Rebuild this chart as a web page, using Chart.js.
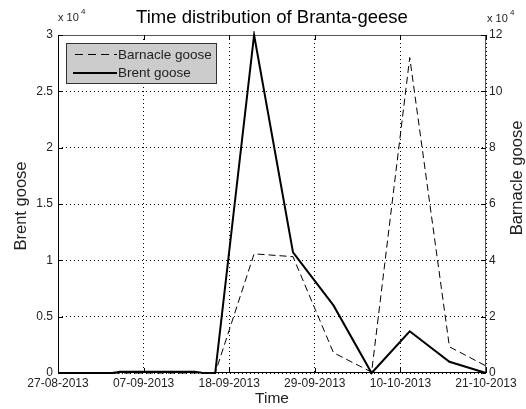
<!DOCTYPE html>
<html><head><meta charset="utf-8">
<script src="https://cdn.jsdelivr.net/npm/chart.js@4.4.0/dist/chart.umd.min.js"></script>
<style>html,body{margin:0;padding:0;background:#fff;}#wrap{width:526px;height:409px;position:relative;}</style>
</head><body><div id="wrap"><canvas id="c" width="526" height="409"></canvas></div>
<script>
// Days since 27-08-2013
const dayOffsets = [0, 7, 8, 17.5, 18.5, 20.2, 25.2, 30.2, 35.4, 40.3, 45.2, 50.3, 55];
const brentGoose = [0, 0, 120, 120, 30, 0, 30000, 10700, 6000, 0, 3700, 1000, 0];
const barnacleGoose = [0, 0, 0, 0, 0, 0, 42300, 41300, 7200, 300, 112000, 9300, 2500];

const xTickDays = [0, 11, 22, 33, 44, 55];
const xTickLabels = ['27-08-2013', '07-09-2013', '18-09-2013', '29-09-2013', '10-10-2013', '21-10-2013'];
const leftTickValues = [0, 5000, 10000, 15000, 20000, 25000, 30000];
const leftTickLabels = ['0', '0.5', '1', '1.5', '2', '2.5', '3'];
const rightTickValues = [0, 20000, 40000, 60000, 80000, 100000, 120000];
const rightTickLabels = ['0', '2', '4', '6', '8', '10', '12'];

const FONT = 'Liberation Sans, Arial, Helvetica, sans-serif';
const TXT = '#222';

function pts(vals) { return dayOffsets.map((d, i) => ({ x: d, y: vals[i] })); }

const overlay = {
  id: 'overlay',
  beforeDatasetsDraw(chart) {
    const { ctx, chartArea: a } = chart;
    ctx.save();
    ctx.lineWidth = 1;
    ctx.strokeStyle = '#555';
    ctx.beginPath();
    ctx.moveTo(a.left, a.top + 0.5); ctx.lineTo(a.right, a.top + 0.5);
    ctx.moveTo(a.right - 0.5, a.top); ctx.lineTo(a.right - 0.5, a.bottom);
    ctx.stroke();
    ctx.strokeStyle = '#000';
    ctx.beginPath();
    ctx.moveTo(a.left + 0.5, a.top); ctx.lineTo(a.left + 0.5, a.bottom);
    ctx.moveTo(a.left, a.bottom - 0.5); ctx.lineTo(a.right, a.bottom - 0.5);
    ctx.stroke();
    const xs = chart.scales.x, yl = chart.scales.y, yr = chart.scales.y1;
    ctx.strokeStyle = '#000';
    ctx.beginPath();
    xTickDays.forEach(d => {
      const px = Math.round(xs.getPixelForValue(d)) + 0.5;
      ctx.moveTo(px, a.bottom); ctx.lineTo(px, a.bottom - 5);
      ctx.moveTo(px, a.top); ctx.lineTo(px, a.top + 5);
    });
    leftTickValues.forEach(v => {
      const py = Math.round(yl.getPixelForValue(v)) + 0.5;
      ctx.moveTo(a.left, py); ctx.lineTo(a.left + 5, py);
    });
    rightTickValues.forEach(v => {
      const py = Math.round(yr.getPixelForValue(v)) + 0.5;
      ctx.moveTo(a.right, py); ctx.lineTo(a.right - 5, py);
    });
    ctx.stroke();
    ctx.restore();
  },
  afterDraw(chart) {
    const { ctx, chartArea: a } = chart;
    ctx.save();
    ctx.fillStyle = '#000';
    ctx.textAlign = 'center';
    ctx.textBaseline = 'middle';
    ctx.font = '18.5px ' + FONT;
    ctx.fillText('Time distribution of Branta-geese', (a.left + a.right) / 2, 18);
    ctx.fillStyle = TXT;
    ctx.font = '15.5px ' + FONT;
    ctx.fillText('Time', (a.left + a.right) / 2, 399);
    ctx.font = '16.5px ' + FONT;
    ctx.save();
    ctx.translate(21, 206); ctx.rotate(-Math.PI / 2);
    ctx.fillText('Brent goose', 0, 0);
    ctx.restore();
    ctx.save();
    ctx.translate(517, 178); ctx.rotate(-Math.PI / 2);
    ctx.fillText('Barnacle goose', 0, 0);
    ctx.restore();
    ctx.textAlign = 'left';
    ctx.textBaseline = 'alphabetic';
    ctx.font = '11px ' + FONT;
    ctx.fillText('x 10', 58, 21);
    ctx.font = '8px ' + FONT;
    ctx.fillText('4', 81, 14);
    ctx.font = '11px ' + FONT;
    ctx.fillText('x 10', 487, 22);
    ctx.font = '8px ' + FONT;
    ctx.fillText('4', 510, 15);
    const lx = 66.5, ly = 43.5, lw = 150, lh = 40;
    ctx.fillStyle = '#cccccc';
    ctx.fillRect(lx, ly, lw, lh);
    ctx.strokeStyle = '#333';
    ctx.lineWidth = 1;
    ctx.strokeRect(lx, ly, lw, lh);
    ctx.strokeStyle = '#000';
    ctx.setLineDash([8, 5]);
    ctx.beginPath(); ctx.moveTo(75, 54.5); ctx.lineTo(117, 54.5); ctx.stroke();
    ctx.setLineDash([]);
    ctx.lineWidth = 2;
    ctx.beginPath(); ctx.moveTo(73, 73); ctx.lineTo(117, 73); ctx.stroke();
    ctx.fillStyle = TXT;
    ctx.font = '13.5px ' + FONT;
    ctx.textBaseline = 'middle';
    ctx.fillText('Barnacle goose', 118, 55);
    ctx.fillText('Brent goose', 118, 73);
    ctx.restore();
  }
};

new Chart(document.getElementById('c'), {
  type: 'line',
  data: {
    datasets: [
      { label: 'Barnacle goose', data: pts(barnacleGoose), yAxisID: 'y1', borderColor: '#000', borderWidth: 1,
        borderDash: [7, 4], pointRadius: 0, tension: 0, fill: false, clip: 4 },
      { label: 'Brent goose', data: pts(brentGoose), yAxisID: 'y', borderColor: '#000', borderWidth: 2,
        pointRadius: 0, tension: 0, fill: false, clip: 4 }
    ]
  },
  options: {
    responsive: false, animation: false, devicePixelRatio: 1,
    layout: { padding: { top: 35, left: 0, right: 0, bottom: 0 } },
    plugins: { legend: { display: false }, title: { display: false }, tooltip: { enabled: false } },
    scales: {
      x: {
        type: 'linear', min: 0, max: 55,
        afterBuildTicks: s => { s.ticks = xTickDays.map(v => ({ value: v })); },
        afterFit: s => { s.height = 36; },
        ticks: { autoSkip: false, maxRotation: 0, padding: 3, color: TXT, font: { family: FONT, size: 12 },
          callback: (v) => xTickLabels[xTickDays.indexOf(v)] },
        grid: { color: '#000', lineWidth: 1, drawTicks: false },
        border: { display: false, dash: [1, 3] }
      },
      y: {
        position: 'left', min: 0, max: 30000,
        afterBuildTicks: s => { s.ticks = leftTickValues.map(v => ({ value: v })); },
        afterFit: s => { s.width = 58; },
        ticks: { padding: 5, color: TXT, font: { family: FONT, size: 12 },
          callback: (v) => leftTickLabels[leftTickValues.indexOf(v)] },
        grid: { color: '#000', lineWidth: 1, drawTicks: false },
        border: { display: false, dash: [1, 3] }
      },
      y1: {
        position: 'right', min: 0, max: 120000,
        afterBuildTicks: s => { s.ticks = rightTickValues.map(v => ({ value: v })); },
        afterFit: s => { s.width = 40; },
        ticks: { padding: 3, color: TXT, font: { family: FONT, size: 12 },
          callback: (v) => rightTickLabels[rightTickValues.indexOf(v)] },
        grid: { display: false, drawTicks: false },
        border: { display: false }
      }
    }
  },
  plugins: [overlay]
});
</script>
</body></html>
